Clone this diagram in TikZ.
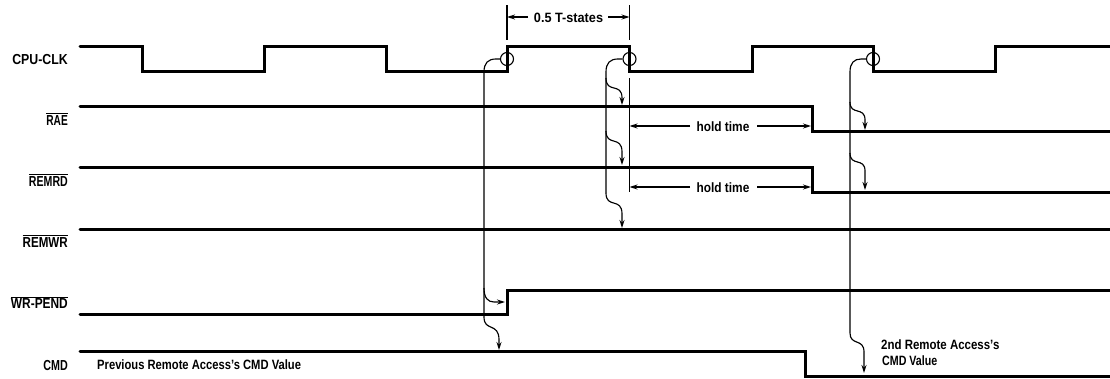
\documentclass[tikz,border=0pt]{standalone}
\usepackage{fontspec}
\usepackage{graphicx}
\setmainfont{Liberation Sans}
\usetikzlibrary{arrows.meta}
\tikzset{
  x=1pt,y=-1pt,
  signal/.style={line width=3pt,line cap=round,line join=miter,black},
  thin line/.style={line width=1.15pt,black},
  arrowed/.style={thin line,-{Stealth[length=8pt,width=5pt]}},
  dimline/.style={thin line,-{Stealth[length=8pt,width=5pt]}},
  ring/.style={circle,draw,line width=1.1pt,minimum size=13pt,inner sep=0pt,black},
  sig label/.style={anchor=base east,inner sep=0pt,font=\fontsize{14.5}{16}\selectfont\bfseries},
  note/.style={anchor=base west,inner sep=0pt,font=\fontsize{13.5}{16}\selectfont\bfseries},
  dim label/.style={anchor=base,inner sep=0pt,font=\fontsize{13.5}{16}\selectfont\bfseries},
}
\newcommand{\sx}[2]{\scalebox{#1}[1]{#2}}
\newcommand{\barred}[2]{$\overline{\mbox{\sx{#1}{#2}}}$}
\begin{document}
\begin{tikzpicture}
\useasboundingbox (0,0) rectangle (1110,378);
% signals
\draw[signal] (80,46) -- (142,46) -- (142,71) -- (264,71) -- (264,46) -- (386,46) -- (386,71) -- (507,71) -- (507,46) -- (629.5,46) -- (629.5,71) -- (752,71) -- (752,46) -- (873,46) -- (873,71) -- (995,71) -- (995,46) -- (1110,46);
\draw[signal] (80,106.5) -- (812,106.5) -- (812,131) -- (1110,131);
\draw[signal] (80,167.5) -- (812,167.5) -- (812,192) -- (1110,192);
\draw[signal] (80,229) -- (1110,229);
\draw[signal] (80,314) -- (507,314) -- (507,290) -- (1110,290);
\draw[signal] (80,351) -- (805,351) -- (805,376) -- (1110,376);
% labels
\node[sig label] (lclk) at (68,64.5) {\sx{.85}{CPU-CLK}};
\node[sig label] (lrae) at (68,125) {\barred{.70}{RAE}};
\node[sig label] (lrd) at (68,186) {\barred{.73}{REMRD}};
\node[sig label] (lwr) at (68,247) {\barred{.80}{REMWR}};
\node[sig label] (lpend) at (68,308.5) {\barred{.82}{WR-PEND}};
\node[sig label] (lcmd) at (68,370) {\sx{.74}{CMD}};
\node[note] (prev) at (97,369.5) {\sx{.83}{Previous Remote Access's CMD Value}};
\node[note] (second) at (881,349) {\sx{.85}{2nd Remote Access's}};
\node[note] (second2) at (882,365.5) {\sx{.79}{CMD Value}};
% rings
\node[ring] (c1) at (507,59) {};
\node[ring] (c2) at (629.5,59) {};
\node[ring] (c3) at (873,59) {};
% T-state dimension
\coordinate (t1) at (507,5); \coordinate (t1b) at (507,40);
\coordinate (t2) at (629.5,5); \coordinate (t2b) at (629.5,40);
\draw[thin line] (t1) -- (t1b);
\draw[thin line] (t2) -- (t2b);
\node[dim label] (tlab) at (568.5,22) {\sx{.94}{0.5 T-states}};
\coordinate (tl) at (528,17); \coordinate (tr) at (608,17);
\draw[dimline] (tl) -- (t1 |- tl);
\draw[dimline] (tr) -- (t2 |- tr);
% hold-time
\coordinate (h1) at (629.5,78); \coordinate (h2) at (629.5,192);
\draw[thin line] (h1) -- (h2);
\node[dim label] (hl1) at (723,131) {\sx{.88}{hold time}};
\node[dim label] (hl2) at (723,192) {\sx{.88}{hold time}};
\coordinate (f1) at (811,126); \coordinate (f2) at (811,187);
\coordinate (g1) at (690,126); \coordinate (g2) at (690,187);
\coordinate (i1) at (757,126); \coordinate (i2) at (757,187);
\draw[dimline] (g1) -- (h1 |- g1);
\draw[dimline] (i1) -- (f1);
\draw[dimline] (g2) -- (h1 |- g2);
\draw[dimline] (i2) -- (f2);
% causal lines from ring 1
\draw[arrowed] (c1.west) -- (496,59) .. controls (488,59) and (484,63) .. (484,72) -- (484,317) .. controls (484,332) and (499,322) .. (499,340) -- (499,350);
\draw[arrowed] (484,288) .. controls (484,298) and (488,302) .. (494,302) -- (505,302);
% causal lines from ring 2
\draw[thin line] (c2.west) -- (618,59) .. controls (610,59) and (606,63) .. (606,72) -- (606,193);
\draw[arrowed] (606,78) .. controls (606,94) and (622,82) .. (622,98) -- (622,105);
\draw[arrowed] (606,131) .. controls (606,147) and (622,135) .. (622,152) -- (622,165);
\draw[arrowed] (606,193) .. controls (606,209) and (622,197) .. (622,214) -- (622,228);
% causal lines from ring 3
\draw[arrowed] (c3.west) -- (861,59) .. controls (854,59) and (850,63) .. (850,72) -- (850,333) .. controls (850,346) and (864,338) .. (864,352) -- (864,373);
\draw[arrowed] (850,102) .. controls (850,116) and (865,106) .. (865,120) -- (865,130);
\draw[arrowed] (850,153) .. controls (850,167) and (865,157) .. (865,171) -- (865,190);
\end{tikzpicture}
\end{document}
